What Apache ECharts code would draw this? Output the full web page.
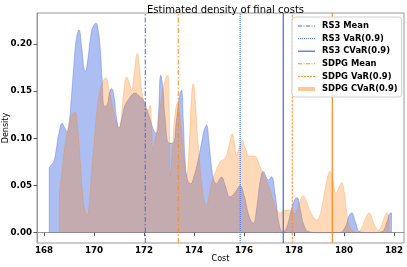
<!DOCTYPE html>
<html><head><meta charset="utf-8">
<script src="https://cdn.jsdelivr.net/npm/echarts@6/dist/echarts.min.js"></script>
<style>html,body{margin:0;padding:0;background:#fff}#c{width:407px;height:267px}</style>
</head><body><div id="c"></div>
<script>
// RS3 density (cost, density)
const rs3Cost = [168.21,168.21,168.3,168.4,168.5,168.6,168.73,168.85,168.93,169.0,169.1,169.2,169.3,169.4,169.5,169.6,169.65,169.75,169.85,169.95,170.08,170.18,170.25,170.32,170.42,170.52,170.62,170.7,170.8,170.9,171.0,171.12,171.24,171.4,171.55,171.64,171.8,171.97,172.1,172.25,172.4,172.5,172.57,172.67,172.75,172.85,173.0,173.15,173.3,173.42,173.5,173.57,173.65,173.75,173.87,174.0,174.15,174.3,174.42,174.5,174.6,174.7,174.8,174.9,175.0,175.1,175.25,175.44,175.65,175.84,176.0,176.2,176.37,176.5,176.65,176.77,176.87,176.97,177.1,177.25,177.4,177.55,177.7,177.9,178.05,178.13,178.25,178.4,178.6,179.0,179.8,180.05,180.2,180.31,180.45,180.64,181.0,181.5,181.7,181.82,181.9,181.9];
const rs3Dens = [0,0.068,0.072,0.076,0.09,0.106,0.116,0.11,0.107,0.115,0.145,0.18,0.207,0.215,0.198,0.174,0.171,0.183,0.205,0.218,0.222,0.212,0.195,0.165,0.134,0.135,0.148,0.153,0.145,0.122,0.111,0.122,0.135,0.142,0.147,0.148,0.145,0.141,0.132,0.12,0.108,0.105,0.12,0.167,0.155,0.12,0.095,0.095,0.12,0.145,0.151,0.12,0.075,0.055,0.052,0.06,0.075,0.095,0.11,0.114,0.095,0.07,0.055,0.052,0.056,0.059,0.05,0.038,0.043,0.05,0.04,0.018,0.01,0.025,0.055,0.065,0.06,0.056,0.059,0.04,0.01,0.001,0.005,0.025,0.036,0.037,0.025,0.008,0.001,0,0,0.006,0.018,0.021,0.012,0.001,0,0.001,0.01,0.02,0.021,0];
// SDPG density
const sdpgCost = [168.61,168.61,168.7,168.8,168.9,169.0,169.12,169.24,169.35,169.45,169.55,169.65,169.73,169.82,169.92,170.0,170.1,170.2,170.35,170.48,170.58,170.7,170.85,171.0,171.1,171.2,171.31,171.42,171.5,171.6,171.73,171.82,171.9,171.97,172.08,172.17,172.24,172.3,172.36,172.45,172.6,172.75,172.88,172.95,173.0,173.06,173.15,173.25,173.33,173.45,173.58,173.7,173.8,173.9,173.97,174.05,174.15,174.3,174.4,174.5,174.6,174.72,174.84,175.04,175.24,175.4,175.53,175.62,175.7,175.8,175.93,176.05,176.24,176.44,176.55,176.64,176.77,176.9,177.05,177.2,177.35,177.44,177.55,177.7,177.9,178.0,178.1,178.25,178.37,178.5,178.7,178.91,179.05,179.2,179.35,179.44,179.55,179.68,179.8,179.91,180.0,180.12,180.24,180.4,180.5,180.7,180.85,181.01,181.15,181.3,181.37,181.5,181.62,181.71,181.8,181.8];
const sdpgDens = [0,0.035,0.06,0.085,0.103,0.115,0.125,0.128,0.11,0.075,0.04,0.022,0.019,0.035,0.07,0.095,0.125,0.145,0.16,0.164,0.155,0.14,0.12,0.111,0.125,0.152,0.165,0.158,0.151,0.168,0.19,0.175,0.152,0.142,0.132,0.13,0.135,0.115,0.089,0.1,0.125,0.15,0.165,0.167,0.14,0.06,0.095,0.128,0.137,0.12,0.085,0.06,0.09,0.145,0.158,0.14,0.1,0.055,0.035,0.029,0.04,0.055,0.063,0.075,0.079,0.092,0.105,0.095,0.082,0.09,0.098,0.09,0.081,0.081,0.077,0.07,0.063,0.055,0.045,0.032,0.023,0.021,0.023,0.024,0.024,0.02,0.022,0.034,0.039,0.033,0.02,0.0135,0.02,0.04,0.06,0.065,0.057,0.042,0.048,0.053,0.045,0.02,0.006,0.001,0,0.005,0.015,0.021,0.013,0.004,0.003,0.008,0.017,0.021,0.012,0];
// Statistics (vertical lines)
const statNames = ['RS3 Mean','RS3 VaR(0.9)','RS3 CVaR(0.9)','SDPG Mean','SDPG VaR(0.9)','SDPG CVaR(0.9)'];
const statValues = [172.05,175.85,177.57,173.37,177.93,179.53];
const xTicks = [168,170,172,174,176,178,180,182];
const yTicks = [0,0.05,0.10,0.15,0.20];

const X_MIN = 167.72, X_MAX = 182.4, Y_MIN = -0.0109, Y_MAX = 0.2329;
const BLUE = '#4169e1', ORANGE = '#ff8a1c';
const statStyles = [
  {color: BLUE, width: 1, type: [5,2,1.5,2]},
  {color: '#5a7ff0', width: 1.3, type: [1,1]},
  {color: BLUE, width: 1.2, type: 'solid'},
  {color: ORANGE, width: 1, type: [5,2,1.5,2]},
  {color: ORANGE, width: 1, type: [2.5,1.2]},
  {color: ORANGE, width: 1.2, type: 'solid'}
];
const legendLine = [
  {color: BLUE, width: 1, type: [4,1.5,1,1.5]},
  {color: BLUE, width: 1, type: [1,1]},
  {color: BLUE, width: 1.2, type: 'solid'},
  {color: ORANGE, width: 1, type: [4,1.5,1,1.5]},
  {color: ORANGE, width: 1, type: [2,1]},
  {color: '#ffc796', width: 4, type: 'solid'}
];
const font = 'DejaVu Sans';
const series = [
  {type:'line', name:'rs3area', data: rs3Cost.map((c,i)=>[c, rs3Dens[i]]), smooth:0.45, symbol:'none',
   lineStyle:{width:0.6, color:'rgba(65,105,225,0.62)'}, areaStyle:{color:'rgba(65,105,225,0.62)'}, z:1, silent:true},
  {type:'line', name:'sdpgarea', data: sdpgCost.map((c,i)=>[c, sdpgDens[i]]), smooth:0.45, symbol:'none',
   lineStyle:{width:0.6, color:'rgba(255,127,14,0.42)'}, areaStyle:{color:'rgba(255,127,14,0.42)'}, z:2, silent:true}
];
statNames.forEach((n,i)=>{
  series.push({type:'line', name:n, data:[[statValues[i], Y_MIN],[statValues[i], Y_MAX]], symbol:'none',
    lineStyle: statStyles[i], itemStyle:{color: statStyles[i].color}, z:3, silent:true});
});
const legendData = statNames.map((n,i)=> ({name:n, lineStyle: legendLine[i], itemStyle:{opacity:0}}));
const chart = echarts.init(document.getElementById('c'), null, {renderer:'canvas'});
chart.setOption({
  animation:false,
  title:{text:'Estimated density of final costs', left:220.5, textAlign:'center', top:0,
    textStyle:{fontFamily:font, fontSize:10, fontWeight:'normal', color:'#000'}},
  grid:{left:37, right:3, top:13, bottom:24, show:true, borderColor:'#999', borderWidth:1, outerBoundsMode:'none', containLabel:false},
  legend:{data:legendData, orient:'vertical', left:292, top:17, itemWidth:17, itemHeight:8, itemGap:2.6,
    padding:[4,4,3,4], backgroundColor:'rgba(255,255,255,0.85)', borderColor:'#d0d0d0', borderWidth:1, borderRadius:3,
    itemStyle:{opacity:0},
    textStyle:{fontFamily:font, fontSize:8.4, fontWeight:'bold', color:'#000', lineHeight:10, padding:[0,0,0,2]}},
  xAxis:{type:'value', min:X_MIN, max:X_MAX, name:'Cost', nameLocation:'middle', nameGap:12, nameMoveOverlap:false,
    nameTextStyle:{fontFamily:font, fontSize:8, color:'#000'},
    axisLine:{show:true, lineStyle:{color:'#999', width:1}},
    axisTick:{show:true, length:3.5, lineStyle:{color:'#555'}, customValues:xTicks},
    axisLabel:{customValues:xTicks, margin:3, fontFamily:font, fontSize:8.7, fontWeight:'bold', color:'#000'},
    splitLine:{show:false}},
  yAxis:{type:'value', min:Y_MIN, max:Y_MAX, name:'Density', nameLocation:'middle', nameGap:27, nameMoveOverlap:false,
    nameTextStyle:{fontFamily:font, fontSize:8, color:'#000'},
    axisLine:{show:true, lineStyle:{color:'#999', width:1}},
    axisTick:{show:true, length:3.5, lineStyle:{color:'#555'}, customValues:yTicks},
    axisLabel:{customValues:yTicks, margin:5, fontFamily:font, fontSize:8.7, fontWeight:'bold', color:'#000',
      formatter:v=>v.toFixed(2)},
    splitLine:{show:false}},
  series:series
});
</script></body></html>
